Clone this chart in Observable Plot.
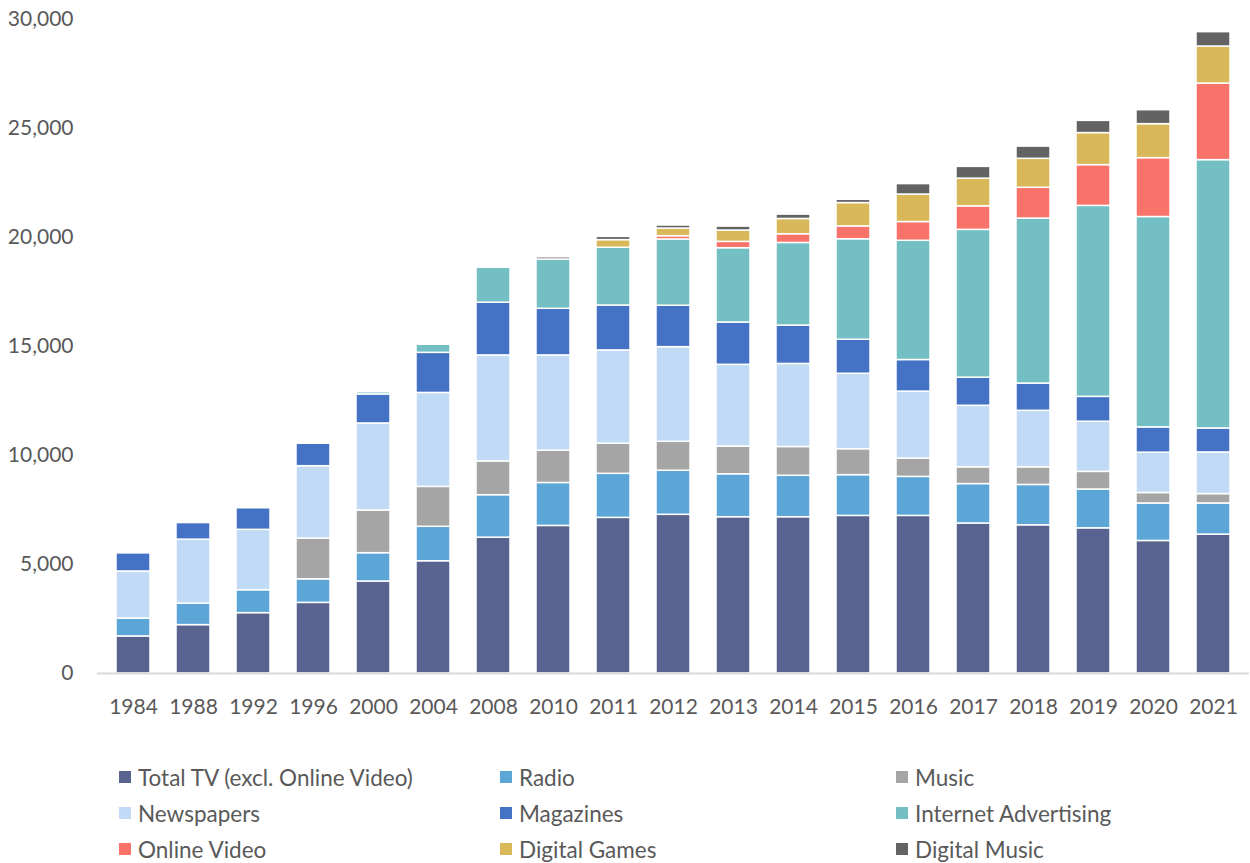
<!DOCTYPE html>
<html>
<head>
<meta charset="utf-8">
<script src="https://cdn.jsdelivr.net/npm/d3@7"></script>
<script src="https://cdn.jsdelivr.net/npm/@observablehq/plot@0.6"></script>
<style>
  body { margin: 0; background: #fff; font-family: Lato, "Open Sans", sans-serif; }
  #chart svg { display: block; }
  #legend { position: relative; height: 123px; width: 1250px; }
  .item { position: absolute; display: flex; align-items: center; height: 36px; font-size: 22.5px; color: #595959; white-space: nowrap; }
  .sw { width: 12px; height: 12px; margin-right: 7px; }
</style>
</head>
<body>
<div id="chart"></div>
<div id="legend"></div>
<script>
const years = ["1984","1988","1992","1996","2000","2004","2008","2010","2011","2012","2013","2014","2015","2016","2017","2018","2019","2020","2021"];

const seriesNames = ["Total TV (excl. Online Video)", "Radio", "Music", "Newspapers", "Magazines", "Internet Advertising", "Online Video", "Digital Games", "Digital Music"];
const seriesColors = ["#58648f", "#5ba5d7", "#a5a5a5", "#c1dbf6", "#4472c4", "#74bfc4", "#f9736a", "#d9b85a", "#636363"];

const totalTV      = [1700, 2220, 2770, 3240, 4220, 5150, 6230, 6770, 7140, 7280, 7170, 7170, 7230, 7230, 6880, 6800, 6660, 6080, 6370];
const radio        = [820, 980, 1050, 1080, 1300, 1580, 1950, 1970, 2020, 2020, 1970, 1900, 1870, 1790, 1810, 1850, 1780, 1720, 1430];
const music        = [0, 0, 0, 1870, 1960, 1830, 1550, 1480, 1380, 1330, 1270, 1320, 1190, 840, 770, 810, 810, 480, 430];
const newspapers   = [2160, 2940, 2770, 3320, 3990, 4310, 4860, 4370, 4280, 4340, 3750, 3810, 3460, 3070, 2820, 2590, 2300, 1850, 1910];
const magazines    = [830, 760, 990, 1030, 1330, 1840, 2420, 2140, 2060, 1900, 1940, 1760, 1560, 1450, 1290, 1250, 1140, 1160, 1100];
const internetAds  = [0, 0, 0, 0, 100, 370, 1600, 2260, 2650, 3040, 3410, 3790, 4610, 5470, 6780, 7570, 8760, 9650, 12310];
const onlineVideo  = [0, 0, 0, 0, 0, 0, 0, 0, 0, 150, 290, 400, 590, 860, 1080, 1410, 1870, 2700, 3510];
const digitalGames = [0, 0, 0, 0, 0, 0, 0, 0, 350, 350, 520, 700, 1070, 1260, 1270, 1330, 1470, 1560, 1700];
const digitalMusic = [0, 0, 0, 0, 0, 0, 0, 100, 150, 140, 180, 200, 150, 480, 540, 560, 560, 640, 660];

const yTicks = [0, 5000, 10000, 15000, 20000, 25000, 30000];

const seriesValues = [totalTV, radio, music, newspapers, magazines, internetAds, onlineVideo, digitalGames, digitalMusic];
const data = [];
seriesNames.forEach((name, si) => {
  years.forEach((yr, i) => {
    data.push({year: yr, series: name, value: seriesValues[si][i]});
  });
});

const chart = Plot.plot({
  width: 1250,
  height: 740,
  marginLeft: 97,
  marginRight: 1,
  marginTop: 19,
  marginBottom: 67,
  style: {fontFamily: "Lato, 'Open Sans', sans-serif", fontSize: "21px", color: "#595959", background: "#fff"},
  x: {domain: years, paddingInner: 0.43, paddingOuter: 0.215, label: null},
  y: {domain: [0, 30000], label: null},
  color: {domain: seriesNames, range: seriesColors},
  marks: [
    Plot.barY(data.filter(d => d.value > 0), {x: "year", y: "value", fill: "series", stroke: "white", strokeWidth: 1.5, order: seriesNames}),
    Plot.ruleY([0], {stroke: "#d9d9d9", strokeWidth: 2}),
    Plot.axisX({tickSize: 0, tickPadding: 26, fontSize: 21, fill: "#595959", label: null}),
    Plot.axisY({ticks: yTicks, tickSize: 0, tickPadding: 24, tickFormat: d3.format(","), fontSize: 21, fill: "#595959", label: null})
  ]
});
document.getElementById("chart").appendChild(chart);

const legend = document.getElementById("legend");
const colX = [119, 500, 896];
seriesNames.forEach((name, i) => {
  const row = Math.floor(i / 3), col = i % 3;
  const item = document.createElement("div");
  item.className = "item";
  item.style.left = colX[col] + "px";
  item.style.top = (19 + row * 36) + "px";
  const sw = document.createElement("div");
  sw.className = "sw";
  sw.style.background = seriesColors[i];
  const t = document.createElement("span");
  t.textContent = name;
  item.appendChild(sw);
  item.appendChild(t);
  legend.appendChild(item);
});
</script>
</body>
</html>
